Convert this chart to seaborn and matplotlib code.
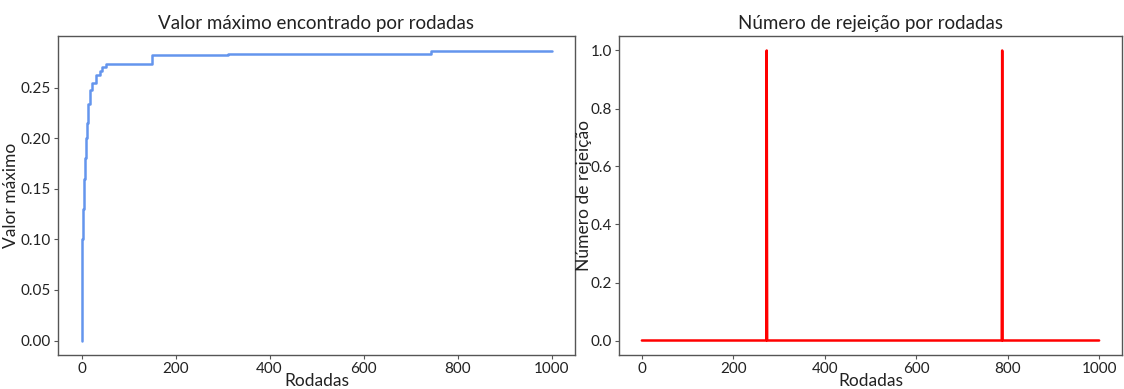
import matplotlib
matplotlib.use("Agg")
import pandas as pd
import seaborn as sns
import matplotlib.pyplot as plt

# running max found per round (step breakpoints)
rodadas_max = [0, 1, 2, 3, 5, 7, 9, 12, 14, 19, 23, 30, 40, 44, 52, 149, 311, 743, 1000]
valor_max = [0.000, 0.060, 0.100, 0.130, 0.160, 0.180, 0.200, 0.215, 0.234, 0.248,
             0.254, 0.2625, 0.266, 0.270, 0.273, 0.282, 0.2833, 0.2866, 0.2866]

# rejections per round: zero everywhere except two spikes
rodadas_rej = [0, 272, 273, 274, 787, 788, 789, 1000]
num_rej = [0, 0, 1, 0, 0, 1, 0, 0]

sns.set_theme(style="white")
plt.rcParams['font.family'] = ['Lato', 'DejaVu Sans']

df_max = pd.DataFrame({'Rodadas': rodadas_max, 'valor': valor_max})
df_rej = pd.DataFrame({'Rodadas': rodadas_rej, 'rej': num_rej})

fig = plt.figure(figsize=(11.24, 3.89), dpi=100)
ax1 = fig.add_axes([58 / 1124, 1 - 355 / 389, 517 / 1124, 319 / 389])
ax2 = fig.add_axes([619 / 1124, 1 - 355 / 389, 503 / 1124, 319 / 389])

sns.lineplot(data=df_max, x='Rodadas', y='valor', ax=ax1, color='#6495ED',
             linewidth=1.8, drawstyle='steps-post')
sns.lineplot(data=df_rej, x='Rodadas', y='rej', ax=ax2, color='#FF0000',
             linewidth=1.8)

ax1.set_title('Valor máximo encontrado por rodadas', fontsize=13.5, pad=5, color='#222222')
ax1.set_xlabel('Rodadas', fontsize=12.5, labelpad=-2, color='#222222')
ax1.set_ylabel('Valor máximo', fontsize=12.5, labelpad=1, color='#222222')
ax1.set_yticks([0.0, 0.05, 0.10, 0.15, 0.20, 0.25])
ax1.set_yticklabels(['0.00', '0.05', '0.10', '0.15', '0.20', '0.25'])

ax2.set_title('Número de rejeição por rodadas', fontsize=13.5, pad=5, color='#222222')
ax2.set_xlabel('Rodadas', fontsize=12.5, labelpad=-2, color='#222222')
ax2.set_ylabel('Número de rejeição', fontsize=12.5, labelpad=-1, color='#222222')

for ax in (ax1, ax2):
    ax.set_xticks([0, 200, 400, 600, 800, 1000])
    ax.tick_params(axis='both', which='both', bottom=True, left=True,
                   length=3, width=0.8, color='#555555', labelsize=11, pad=2,
                   labelcolor='#222222')
    for sp in ax.spines.values():
        sp.set_color('#555555')
        sp.set_linewidth(1.0)

fig.savefig('out.png', dpi=100)
